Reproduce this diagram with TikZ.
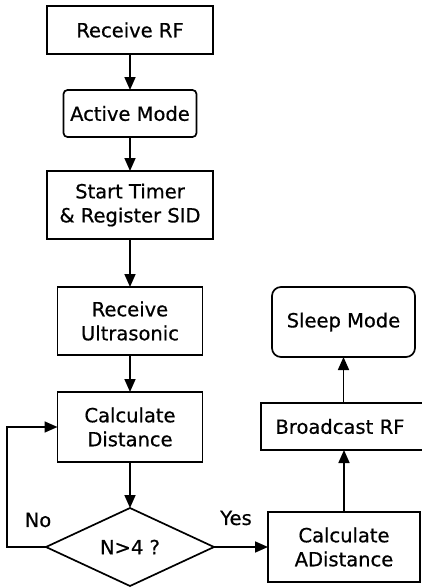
\documentclass[tikz,border=0pt]{standalone}
\usepackage{fontspec}
\setmainfont[FakeBold=0.6]{DejaVu Sans}
\usetikzlibrary{shapes.geometric,arrows.meta}
\begin{document}
\begin{tikzpicture}[x=1pt,y=-1pt,
  every node/.style={font=\fontsize{19.5}{24}\selectfont, align=center, inner sep=0pt, outer sep=0pt},
  box/.style={draw, line width=1.7pt, rectangle},
  rbox/.style={draw, line width=1.7pt, rectangle, rounded corners=#1},
  dia/.style={draw, line width=1.7pt, diamond, minimum width=168pt, minimum height=78pt},
  conn/.style={line width=1.7pt, -{Triangle[length=13pt,width=11pt]}},
  lbl/.style={font=\fontsize{19.5}{24}\selectfont}
]
\useasboundingbox (0,0) rectangle (422,587);
\clip (0,0) rectangle (422,587);
\node[box, minimum width=166pt, minimum height=48pt] (rf) at (130,30) {Receive RF};
\node[rbox=4pt, minimum width=133pt, minimum height=47pt] (act) at (130,113.5) {Active Mode};
\node[box, minimum width=166pt, minimum height=68pt] (st) at (130,205) {Start Timer\\\& Register SID};
\node[box, minimum width=145pt, minimum height=68pt] (ru) at (130,321) {Receive\\Ultrasonic};
\node[box, minimum width=145pt, minimum height=70pt] (cd) at (130,427) {Calculate\\Distance};
\node[dia] (dec) at (130,547) {N>4 ?};
\node[box, minimum width=152pt, minimum height=70pt] (ca) at (344,547) {Calculate\\ADistance};
\node[box, minimum width=162pt, minimum height=47pt, text width=162pt] (br) at (342,426.5) {\hspace*{-4pt}Broadcast RF};
\node[rbox=9pt, minimum width=143pt, minimum height=70pt] (sl) at (343.5,322) {Sleep Mode};
\coordinate (l1) at (7,547);
\coordinate (l2) at (7,427);
\draw[conn] (rf) -- (act);
\draw[conn] (act) -- (st);
\draw[conn] (st) -- (ru);
\draw[conn] (ru) -- (cd);
\draw[conn] (cd) -- (dec);
\draw[conn] (dec.east) -- (ca.west);
\draw[conn] (ca.north) -- (ca.north |- br.south);
\draw[conn] (br.north -| sl.south) -- (sl.south);
\draw[conn] (dec.west) -- (l1) -- (l2) -- (cd.west);
\node[lbl] (no) at (38,520) {No};
\node[lbl] (yes) at (236,518) {Yes};
\end{tikzpicture}
\end{document}
